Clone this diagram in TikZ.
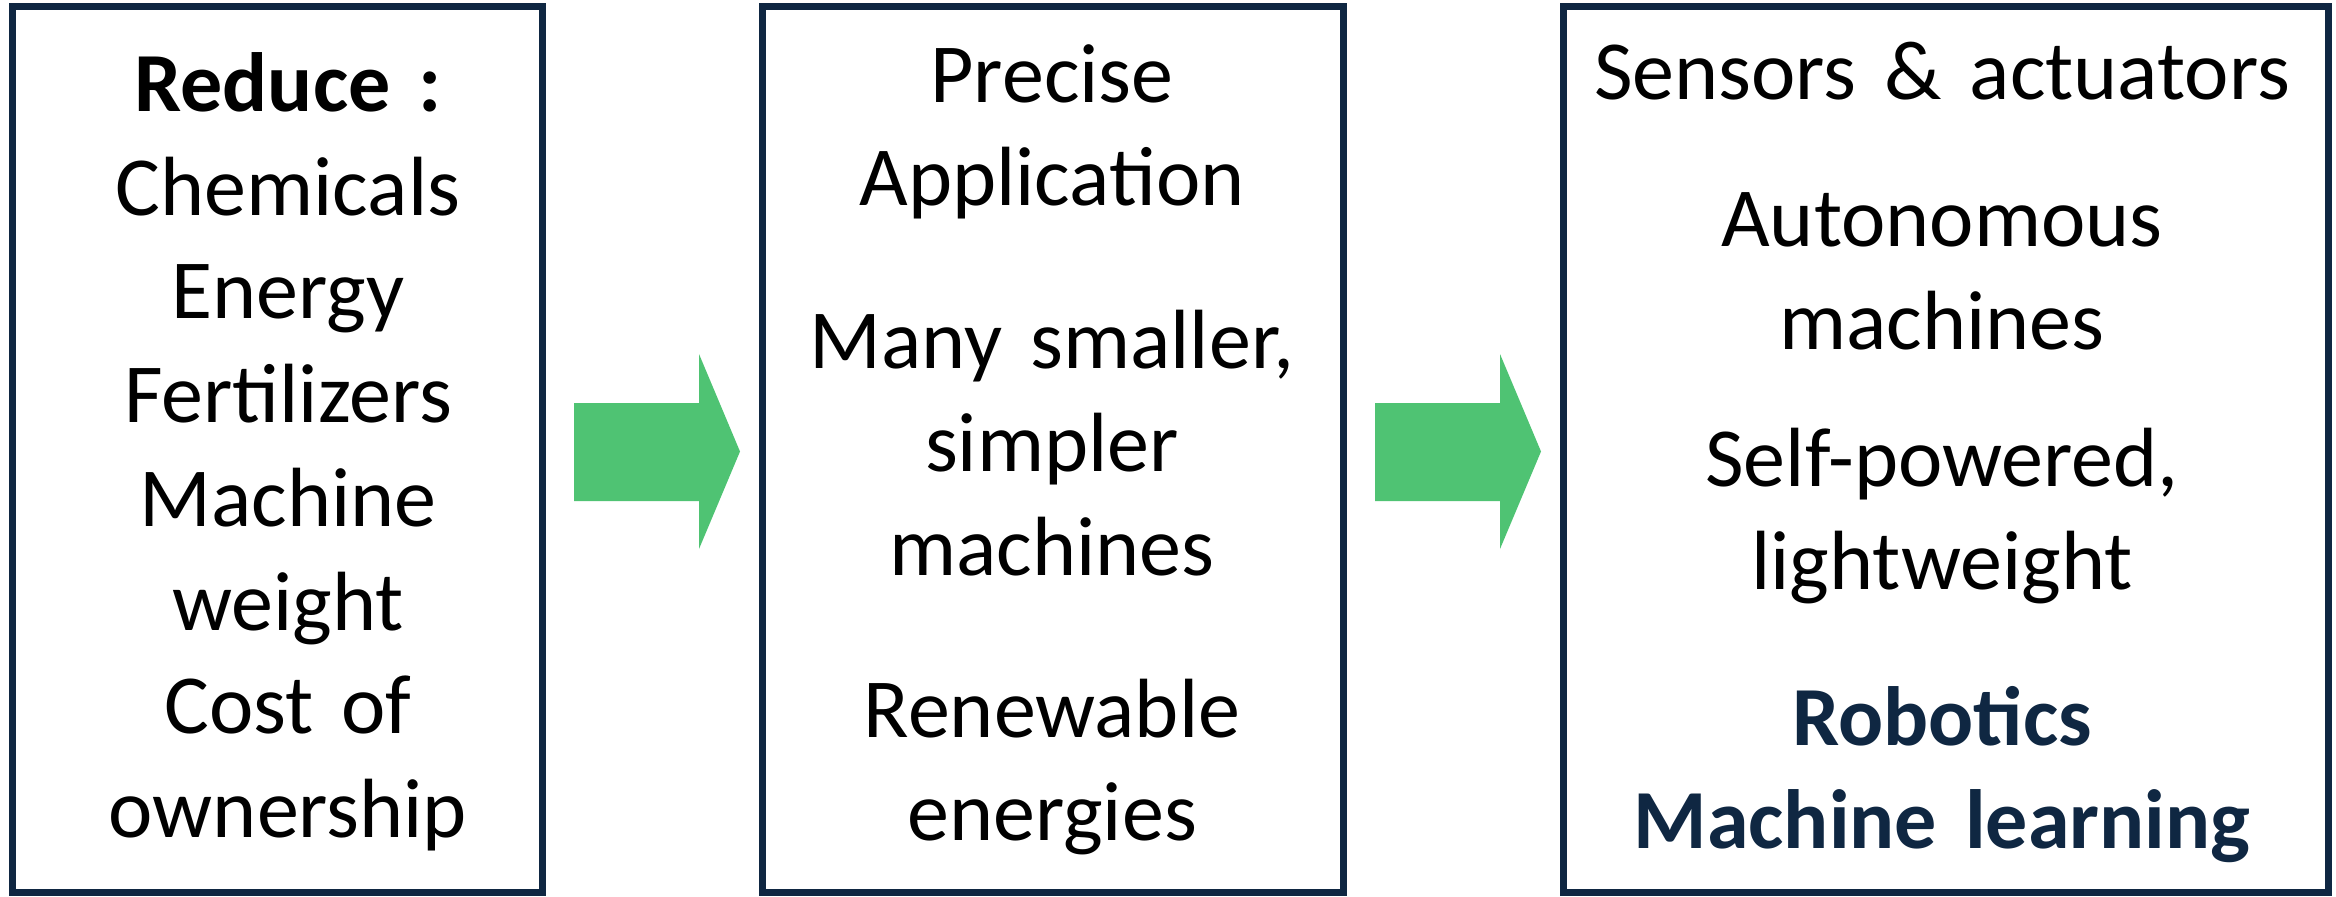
\documentclass[tikz,border=0pt]{standalone}
\usepackage{fontspec}
\setmainfont{Carlito}
\definecolor{navy}{RGB}{15,39,66}
\definecolor{leaf}{RGB}{79,195,115}
\tikzset{
  box/.style={draw=navy,line width=2pt,inner sep=0pt},
  txt/.style={align=center,anchor=base,inner sep=0pt,font=\fontsize{23.9}{29.5}\selectfont},
  flow/.style={fill=leaf}
}
\begin{document}
\begin{tikzpicture}[x=0.01cm,y=-0.01cm]
\useasboundingbox (0,0) rectangle (2336,897);
% the three panels
\node[box,minimum width=5.30cm,minimum height=8.86cm] (reduce) at (277.5,449.5) {};
\node[box,minimum width=5.81cm,minimum height=8.86cm] (apply) at (1053,449.5) {};
\node[box,minimum width=7.645cm,minimum height=8.86cm] (tech) at (1945.75,449.5) {};
% left panel
\node[txt,text width=5cm] (goals) at (288,111.5) {\textbf{Reduce :}\\Chemicals\\Energy\\Fertilizers\\Machine\\weight\\Cost of\\ownership};
% middle panel
\node[txt,text width=5.6cm] (precise) at (1052,102) {Precise\\Application};
\node[txt,text width=5.6cm] (small) at (1052,368) {Many smaller,\\simpler\\machines};
\node[txt,text width=5.6cm] (renew) at (1052,737) {Renewable\\energies};
% right panel
\node[txt,text width=7.4cm] (sensors) at (1942,100) {Sensors \& actuators};
\node[txt,text width=7.4cm] (auto) at (1942,246) {Autonomous\\machines};
\node[txt,text width=7.4cm] (self) at (1942,486) {Self-powered,\\lightweight};
\node[txt,text width=7.4cm,text=navy,font=\fontsize{23.9}{29.5}\selectfont\bfseries] (robot) at (1942,745) {Robotics\\Machine learning};
% block arrows between the panels
\foreach \x in {574,1375}
  \fill[flow] (\x,403) -- ++(125,0) -- ++(0,-49) -- ++(41,97.5) -- ++(-41,97.5) -- ++(0,-48) -- ++(-125,0) -- cycle;
\end{tikzpicture}
\end{document}
